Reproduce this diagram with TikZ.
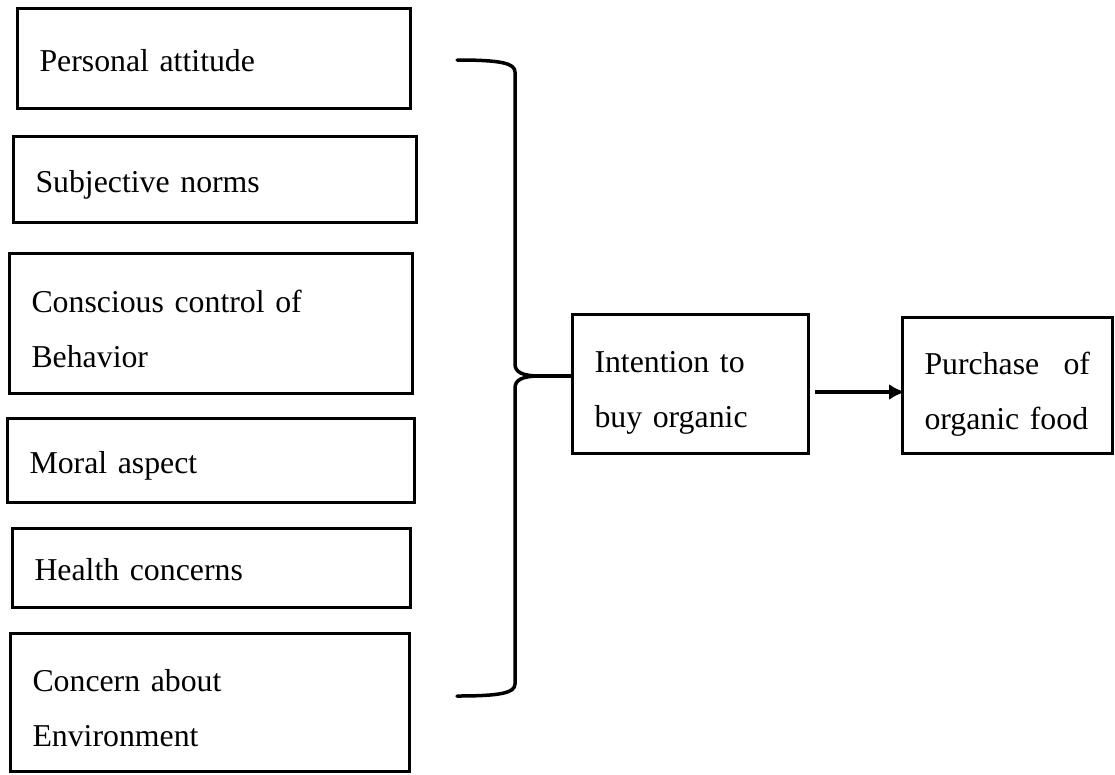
\documentclass[tikz,border=0pt]{standalone}
\usepackage{fontspec}
\setmainfont{Liberation Serif}
\usetikzlibrary{arrows.meta}
\tikzset{every node/.style={align=left},
  factor/.style={draw, line width=3pt, outer sep=0pt, inner xsep=22.5pt, inner ysep=0pt,
    font=\fontsize{31.8}{55}\selectfont, text height=34pt, text depth=8pt},
  twoline/.style={text height=40pt, text depth=62pt},
  brace/.style={line width=3.5pt, line cap=round, line join=round},
  flow/.style={-{Latex[length=16pt,width=16pt]}, line width=3.5pt}}

\begin{document}
\begin{tikzpicture}[x=1pt, y=-1pt]
            \useasboundingbox (0,0) rectangle (1115,774);
            % factors on the left
            \node[factor, text width=348pt, minimum height=100pt] (att) at (213.5,58) {Personal attitude};
            \node[factor, text width=358pt, minimum height=86pt] (norm) at (214.5,179) {Subjective norms};
            \node[factor, twoline, text width=358pt, minimum height=140pt] (ctrl) at (210.5,323) {Conscious control of \\ Behavior};
            \node[factor, text width=362pt, minimum height=84pt] (moral) at (210.5,460) {Moral aspect};
            \node[factor, text width=353pt, minimum height=79pt] (health) at (211,567.5) {Health concerns};
            \node[factor, twoline, text width=354pt, minimum height=138.5pt] (env) at (209.5,702.25) {Concern about \\ Environment};
            % intention and purchase
            \node[factor, twoline, text width=191pt, minimum height=139pt] (intent) at (690,383.5) {Intention to \\ buy organic};
            \node[factor, twoline, text width=165.5pt, minimum height=136pt] (buy) at (1007.25,385) {Purchase\hfill of \\ organic food};
            % brace
            \coordinate (btop) at (457,60);
            \coordinate (btip) at (540,376);
            \coordinate (bbot) at (457,696);
            \draw[brace] (btop) .. controls (500,60) and (515,63) .. (515,72) -- (515,364)
                .. controls (515,372) and (522,376) .. (btip)
                .. controls (522,376) and (515,380) .. (515,388) -- (515,684)
                .. controls (515,693) and (500,696) .. (bbot);
            \draw[brace] (btip) -- (btip -| intent.west);
            \draw[flow] ([xshift=7pt,yshift=-8.5pt]intent.east) -- ([xshift=3pt,yshift=-7pt]buy.west);
        \end{tikzpicture}
\end{document}
